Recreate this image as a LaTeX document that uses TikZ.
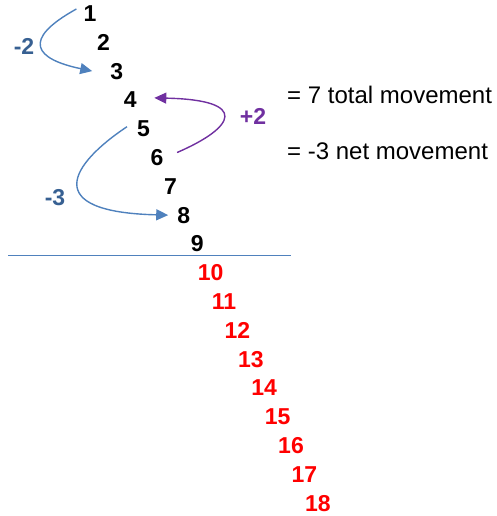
\documentclass[tikz,border=0pt]{standalone}
\usepackage{fontspec}
\setmainfont{Liberation Sans}
\usetikzlibrary{arrows.meta}
\definecolor{moveblue}{RGB}{79,129,189}
\definecolor{labelblue}{RGB}{55,96,146}
\definecolor{movepurple}{RGB}{112,48,160}
\begin{document}
\begin{tikzpicture}[x=1pt,y=-1pt,
    num/.style={font=\fontsize{23}{23}\selectfont\bfseries, inner sep=0pt},
    movelabel/.style={font=\fontsize{23}{23}\selectfont\bfseries, inner sep=0pt},
    move/.style={-{Triangle[length=12pt,width=11pt]}, line width=1.4pt},
    sumtext/.style={font=\fontsize{24}{24}\selectfont, inner sep=0pt, anchor=west}]
    \useasboundingbox (0,0) rectangle (497,516);
    % numbers above the line
    \foreach \i in {1,...,9}
        \node[num] (n\i) at ({90+13.4*(\i-1)}, {13.5+28.8*(\i-1)}) {\i};
    % numbers below the line
    \foreach \i in {10,...,18}
        \node[num, red] (n\i) at ({90+13.4*(\i-1)}, {13.5+28.8*(\i-1)}) {\i};
    % define point
    \coordinate (lineL) at (8, 255.5);
    \coordinate (lineR) at (291, 255.5);
    \draw[moveblue, line width=1.4pt] (lineL) -- (lineR);
    % moves
    \draw[move, moveblue] ([xshift=-7pt, yshift=4.5pt]n1.west)
        .. controls +(-56,31) and +(-57,-12) .. ([xshift=-18pt]n3.west);
    \draw[move, moveblue] ([xshift=-10pt, yshift=2pt]n5.west)
        .. controls +(-57,38) and +(-128,-3) .. ([xshift=-9pt]n8.west);
    \draw[move, movepurple] ([xshift=13.5pt, yshift=5pt]n6.east)
        .. controls +(58,-25) and +(96,2) .. ([xshift=17.5pt, yshift=2pt]n4.east);
    \node[movelabel, labelblue] (m2) at (24, 46) {-2};
    \node[movelabel, labelblue] (m3) at (55, 198) {-3};
    \node[movelabel, movepurple] (p2) at (253, 116) {+2};
    % totals
    \node[sumtext] (total) at (287, 95) {= 7 total movement};
    \node[sumtext] (net) at (287, 151) {= -3 net movement};
\end{tikzpicture}
\end{document}
